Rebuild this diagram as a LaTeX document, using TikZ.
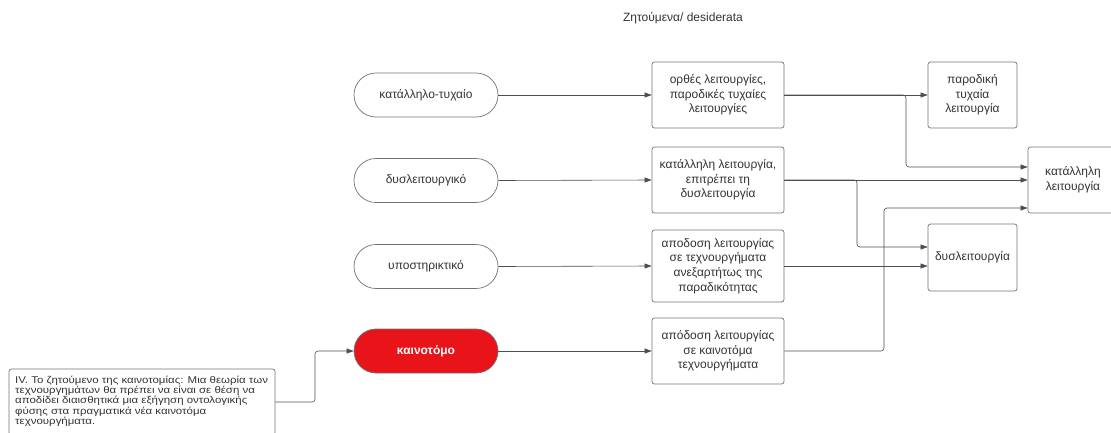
\documentclass[tikz,border=0pt]{standalone}
\usepackage{fontspec}
\setmainfont{Liberation Sans}
\newfontfamily\notefont[FakeStretch=1.17]{Liberation Sans}
\usetikzlibrary{arrows.meta}
\definecolor{txt}{HTML}{333333}
\definecolor{ln}{HTML}{4A4F57}
\definecolor{bd}{HTML}{6E737A}
\definecolor{redfill}{HTML}{E8141A}
\begin{document}
\begin{tikzpicture}[x=1pt,y=-1pt,
  every node/.style={font=\fontsize{12}{14.6}\selectfont, text=txt},
  pill/.style={draw=bd, line width=0.7pt, rounded corners=22pt, minimum width=144pt, minimum height=44pt, inner sep=0pt},
  midbox/.style={draw=bd, line width=0.7pt, rounded corners=2.5pt, minimum width=132pt, minimum height=66pt, align=center, inner sep=0pt},
  rbox/.style={draw=bd, line width=0.7pt, rounded corners=2.5pt, minimum width=89pt, minimum height=66pt, align=center, inner sep=0pt},
  conn/.style={draw=ln, line width=0.6pt, rounded corners=3pt, -{Triangle[length=7pt,width=5pt]}}
]
\clip (0,0) rectangle (1111,432);

\node (title) at (683,18) {Ζητούμενα/ desiderata};

% left pills
\node[pill] (p1) at (426,95) {κατάλληλο-τυχαίο};
\node[pill] (p2) at (426,180.5) {δυσλειτουργικό};
\node[pill] (p3) at (426,266.5) {υποστηρικτικό};
\node[pill, fill=redfill, text=white, font=\fontsize{12}{14.6}\selectfont\bfseries] (p4) at (426,351) {καινοτόμο};

% middle boxes
\node[midbox] (m1) at (718,95) {ορθές λειτουργίες,\\παροδικές τυχαίες\\λειτουργίες};
\node[midbox] (m2) at (718,180) {κατάλληλη λειτουργία,\\επιτρέπει τη\\δυσλειτουργία};
\node[midbox, minimum height=72pt] (m3) at (718,266) {αποδοση λειτουργίας\\σε τεχνουργήματα\\ανεξαρτήτως της\\παραδικότητας};
\node[midbox] (m4) at (718,351) {απόδοση λειτουργίας\\σε καινοτόμα\\τεχνουργήματα};

% right boxes
\node[rbox] (r1) at (972.5,95) {παροδική\\τυχαία\\λειτουργία};
\node[rbox, minimum width=90pt] (r2) at (1073,180) {κατάλληλη\\λειτουργία};
\node[rbox, minimum height=67pt] (r3) at (972.5,257.5) {δυσλειτουργία};

% note
\node[draw=bd, line width=0.7pt, rounded corners=2.5pt, minimum width=266pt, minimum height=66pt, inner sep=0pt] (note) at (142,402) {};
\node[anchor=north west, align=left, inner sep=0pt, font=\notefont\fontsize{9.8}{8.7}\selectfont] (notetext) at (15,375.5)
 {IV. Το ζητούμενο της καινοτομίας: Μια θεωρία των\\τεχνουργημάτων θα πρέπει να είναι σε θέση να\\αποδίδει διαισθητικά μια εξήγηση οντολογικής\\φύσης στα πραγματικά νέα καινοτόμα\\τεχνουργήματα.};

% connectors
\draw[conn] (p1.east) -- (m1.west);
\draw[conn] (p2.east) -- (m2.west);
\draw[conn] (p3.east) -- (m3.west);
\draw[conn] (p4.east) -- (m4.west);
\draw[conn] (note.east) -- (315,402) -- (315,351) -- (p4.west);

\draw[conn] (m1.east) -- (r1.west);
\draw[conn] (m1.east) -- (906,95) -- (906,167) -- (r2.west |- 0,167);
\draw[conn] (m2.east) -- (r2.west |- 0,180);
\draw[conn] (m2.east) -- (857,180) -- (857,247) -- (r3.west |- 0,247);
\draw[conn] (m3.east) -- (r3.west |- 0,266);
\draw[conn] (m4.east) -- (884,351) -- (884,208) -- (r2.west |- 0,208);
\end{tikzpicture}
\end{document}
